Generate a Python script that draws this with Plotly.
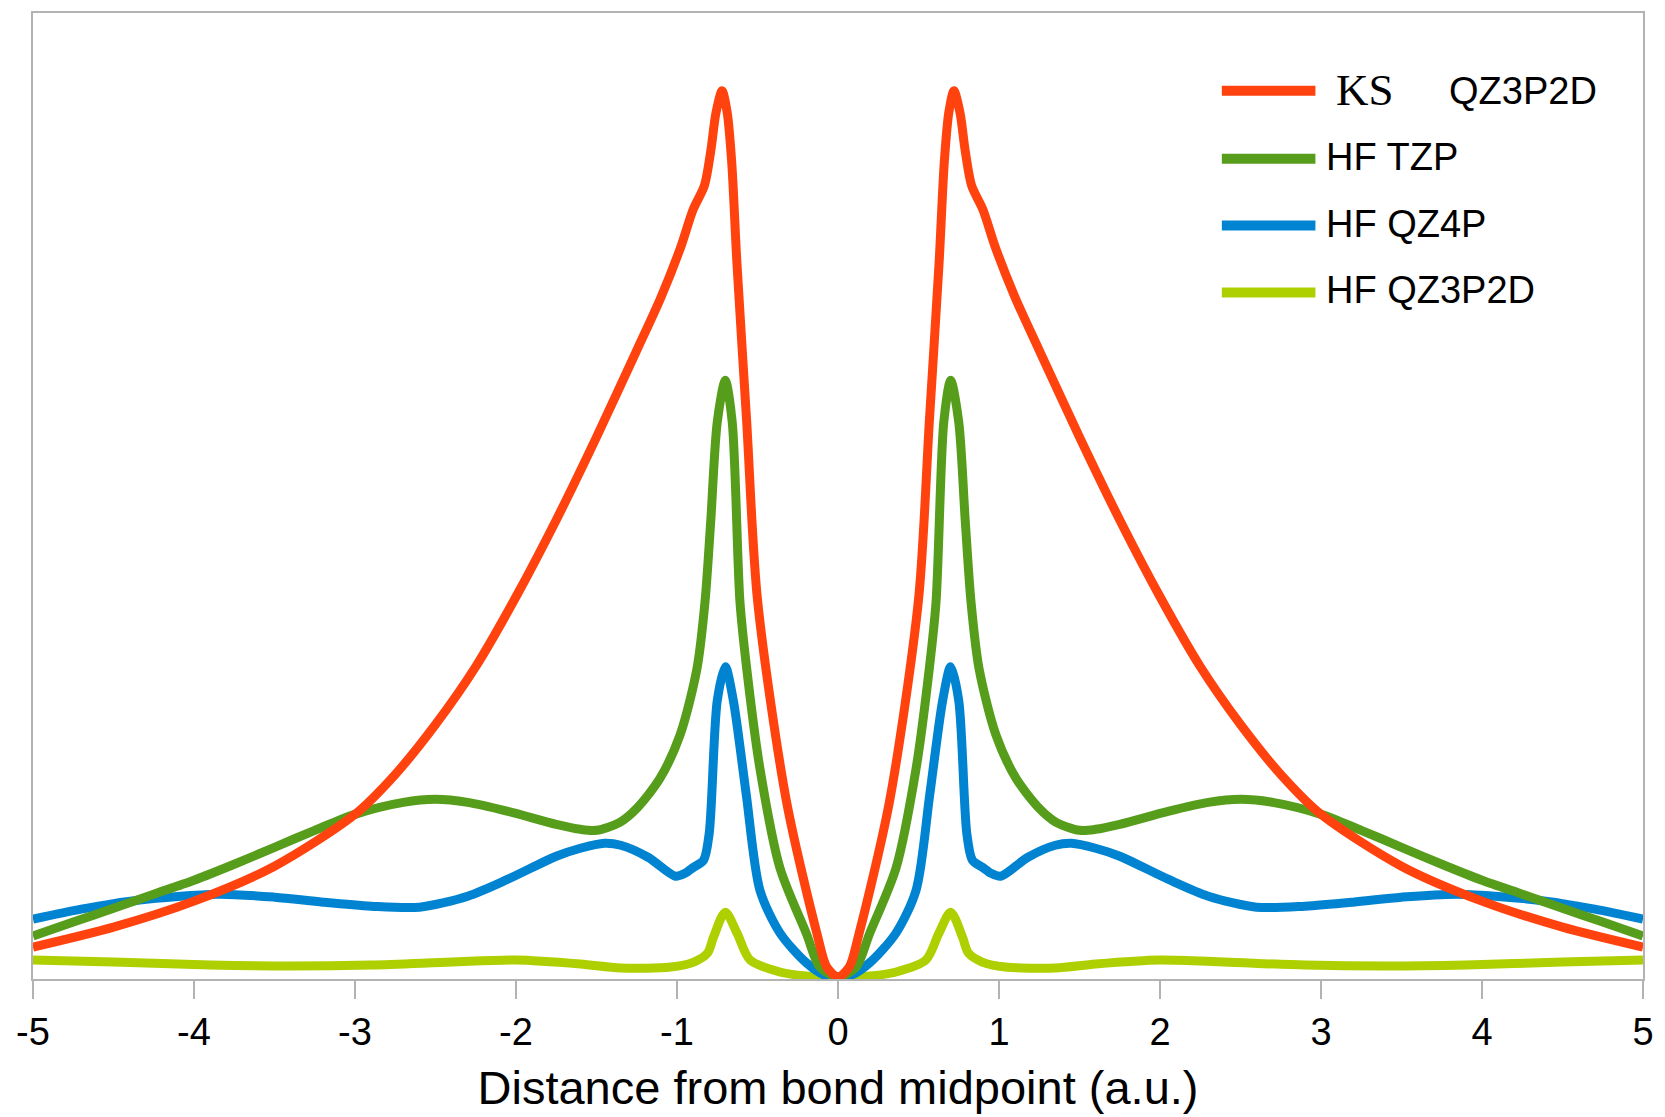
import plotly.graph_objects as go

# Distance from the bond midpoint (a.u.), x >= 0 half; curves are symmetric about 0
ks_x = [0, 0.07, 0.13, 0.32, 0.50, 0.567, 0.628, 0.66, 0.688, 0.72, 0.758, 0.79, 0.83,
        0.90, 0.98, 1.1, 1.25, 1.5, 1.75, 2.0, 2.25, 2.5, 2.75, 3.0, 3.5, 4.0, 4.5, 5.0]
ks_y = [2, 12, 45, 178, 380, 558, 718, 818, 868, 890, 868, 830, 795,
        771, 732, 683, 630, 543, 460, 383, 313, 255, 205, 165, 113, 78, 52, 32]

tzp_x = [0, 0.113, 0.195, 0.36, 0.485, 0.567, 0.609, 0.657, 0.70, 0.75, 0.79, 0.826,
         0.876, 0.98, 1.106, 1.25, 1.355, 1.5, 1.6, 1.75, 2.05, 2.3, 2.5, 2.7, 3.0,
         3.25, 3.5, 3.75, 4.0, 4.25, 4.5, 4.75, 5.0]
tzp_y = [2, 12, 45, 111, 211, 311, 378, 558, 600, 558, 460, 378,
         311, 245, 201, 171, 157, 149, 150, 155, 168, 177, 180, 177, 165,
         149, 132, 115, 99, 85, 71, 57, 43]

qz4p_x = [0, 0.07, 0.195, 0.36, 0.485, 0.57, 0.65, 0.70, 0.75, 0.80, 0.835, 0.897,
          0.95, 1.01, 1.18, 1.35, 1.45, 1.6, 1.75, 2.05, 2.3, 2.6, 2.9, 3.2, 3.5,
          3.85, 4.35, 4.7, 5.0]
qz4p_y = [2, 3, 16, 46, 89, 185, 279, 313, 279, 146, 119, 112,
          106, 103, 122, 134, 136, 131, 123, 100, 83, 72, 73, 77, 82,
          85, 79, 70, 60]

qz3p2d_x = [0, 0.2, 0.36, 0.546, 0.627, 0.70, 0.773, 0.81, 0.896, 1.04, 1.35, 1.6,
            2.0, 2.4, 2.9, 3.4, 3.9, 4.5, 5.0]
qz3p2d_y = [1, 3, 7, 19, 46, 67, 42, 26, 17, 12, 11, 15,
            19, 17, 14, 13, 14, 17, 19]

tick_vals = [-5, -4, -3, -2, -1, 0, 1, 2, 3, 4, 5]
tick_text = ["-5", "-4", "-3", "-2", "-1", "0", "1", "2", "3", "4", "5"]

SCALE = 1000.0  # density values are stored in thousandths


def mirrored(xs, ys):
    """Unfold the x >= 0 half into the full symmetric profile."""
    fx = [-x for x in reversed(xs[1:])] + list(xs)
    fy = [y / SCALE for y in reversed(ys[1:])] + [y / SCALE for y in ys]
    return fx, fy


series = [
    # drawn bottom-to-top
    ("HF QZ3P2D", qz3p2d_x, qz3p2d_y, "#aecf00"),
    ("HF QZ4P", qz4p_x, qz4p_y, "#0084d1"),
    ("HF TZP", tzp_x, tzp_y, "#579d1c"),
    ("KS QZ3P2D", ks_x, ks_y, "#ff420e"),
]

fig = go.Figure()
for name, xs, ys, color in series:
    fx, fy = mirrored(xs, ys)
    fig.add_trace(go.Scatter(
        x=fx, y=fy, mode="lines", name=name,
        line=dict(color=color, width=9, shape="spline", smoothing=0.8),
        showlegend=False,
    ))

W, H = 1665, 1117
ML, MR, MT, MB = 33, 15, 11, 138
PW, PH = W - ML - MR, H - MT - MB


def px_x(p):
    return (p - ML) / PW


def px_y(p):
    return (H - MB - p) / PH


SANS = "Liberation Sans, Arial, sans-serif"
SERIF = "Liberation Serif, Times New Roman, serif"

# Legend block: swatch + label per series
legend_rows = [
    (89, "#ff420e", None),
    (157, "#579d1c", "HF TZP"),
    (224, "#0084d1", "HF QZ4P"),
    (291, "#aecf00", "HF QZ3P2D"),
]
shapes = []
annotations = []
for ypix, color, label in legend_rows:
    shapes.append(dict(type="line", xref="paper", yref="paper",
                       x0=px_x(1227), x1=px_x(1321), y0=px_y(ypix), y1=px_y(ypix),
                       line=dict(color=color, width=10)))
    if label:
        annotations.append(dict(xref="paper", yref="paper", x=px_x(1330), y=px_y(ypix - 2),
                                xanchor="left", yanchor="middle", text=label,
                                showarrow=False, font=dict(family=SANS, size=38, color="black")))
annotations.append(dict(xref="paper", yref="paper", x=px_x(1340), y=px_y(88),
                        xanchor="left", yanchor="middle", text="KS", showarrow=False,
                        font=dict(family=SERIF, size=45, color="black")))
annotations.append(dict(xref="paper", yref="paper", x=px_x(1453), y=px_y(89),
                        xanchor="left", yanchor="middle", text="QZ3P2D", showarrow=False,
                        font=dict(family=SANS, size=38, color="black")))

fig.update_layout(
    width=W, height=H,
    margin=dict(l=ML, r=MR, t=MT, b=MB),
    paper_bgcolor="white", plot_bgcolor="white",
    shapes=shapes, annotations=annotations,
    xaxis=dict(
        range=[-5, 5], tickvals=tick_vals, ticktext=tick_text,
        ticks="outside", ticklen=18, tickwidth=2, tickcolor="#b3b3b3",
        showline=True, linecolor="#b3b3b3", linewidth=2, mirror=True,
        showgrid=False, zeroline=False,
        tickfont=dict(family=SANS, size=38, color="black"),
        title=dict(text="Distance from bond midpoint (a.u.)",
                   font=dict(family=SANS, size=47, color="black"), standoff=20),
    ),
    yaxis=dict(
        range=[0, 0.968], showticklabels=False, ticks="",
        showline=True, linecolor="#b3b3b3", linewidth=2, mirror=True,
        showgrid=False, zeroline=False,
    ),
)

fig.write_html("out.html")
